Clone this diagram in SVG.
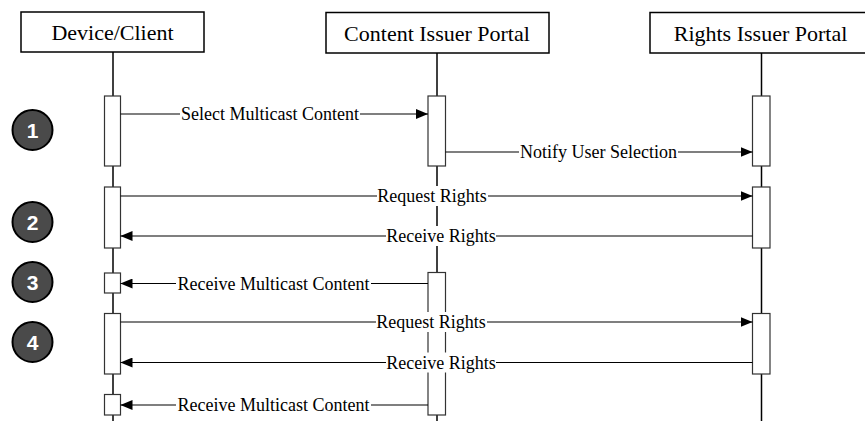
<svg xmlns="http://www.w3.org/2000/svg" width="865" height="421" viewBox="0 0 865 421">
<style>
.hdr{fill:#fff;stroke:#000;stroke-width:1.5}
.hdrt{font-size:22px;fill:#000;text-anchor:middle}
.life{stroke:#000;stroke-width:1.5;fill:none}
.act{fill:#fff;stroke:#333;stroke-width:1.2}
.msg{stroke:#000;stroke-width:1.2;fill:none}
.lbg{fill:#fff}
.lbl{font-size:18px;fill:#000;text-anchor:middle}
.step{fill:#4a4a4a;stroke:#000;stroke-width:2}
.stept{font-size:21px;font-weight:bold;fill:#fff;text-anchor:middle}
</style>
<defs>
<marker id="ah" markerWidth="12" markerHeight="10" refX="12" refY="5" orient="auto" markerUnits="userSpaceOnUse">
<path d="M0,0 L12,5 L0,10 Z" fill="#000"/>
</marker>
</defs>
<rect width="865" height="421" fill="#fff"/>
<g id="device" font-family="'Liberation Serif', 'DejaVu Serif', serif">
<line class="life" x1="113" y1="52" x2="113" y2="421"/>
<rect class="hdr" x="21" y="12" width="183" height="40"/>
<text class="hdrt" x="112.5" y="40">Device/Client</text>
<rect class="act" x="104.5" y="96" width="16" height="70"/>
<rect class="act" x="104.5" y="187" width="16" height="61"/>
<rect class="act" x="104.5" y="273" width="16" height="20"/>
<rect class="act" x="104.5" y="313.5" width="16" height="60.5"/>
<rect class="act" x="104.5" y="394.5" width="16" height="20.5"/>
</g>
<g id="content" font-family="'Liberation Serif', 'DejaVu Serif', serif">
<line class="life" x1="437" y1="53" x2="437" y2="421"/>
<rect class="hdr" x="326" y="12.5" width="223" height="40.5"/>
<text class="hdrt" x="437" y="40.5">Content Issuer Portal</text>
<rect class="act" x="428" y="96" width="17.5" height="70"/>
<rect class="act" x="428" y="272.5" width="17.5" height="142.5"/>
</g>
<g id="rights" font-family="'Liberation Serif', 'DejaVu Serif', serif">
<line class="life" x1="761.5" y1="53" x2="761.5" y2="421"/>
<rect class="hdr" x="650" y="12.5" width="223" height="40.5"/>
<text class="hdrt" x="760.5" y="40.5">Rights Issuer Portal</text>
<rect class="act" x="752.5" y="96" width="17.5" height="70"/>
<rect class="act" x="752.5" y="187" width="17.5" height="61"/>
<rect class="act" x="752.5" y="313.5" width="17.5" height="60.5"/>
</g>
<g id="steps" font-family="'Liberation Sans', Arial, sans-serif">
<circle class="step" cx="32.5" cy="130" r="20"/>
<text class="stept" x="32.5" y="137.5">1</text>
<circle class="step" cx="32.5" cy="222" r="20"/>
<text class="stept" x="32.5" y="229.5">2</text>
<circle class="step" cx="32.5" cy="282" r="20"/>
<text class="stept" x="32.5" y="289.5">3</text>
<circle class="step" cx="32.5" cy="342" r="20"/>
<text class="stept" x="32.5" y="349.5">4</text>
</g>
<g id="connectors" font-family="'Liberation Serif', 'DejaVu Serif', serif">
<line class="msg" x1="120.5" y1="114" x2="428" y2="114" marker-end="url(#ah)"/>
<line class="msg" x1="445.5" y1="152" x2="752.5" y2="152" marker-end="url(#ah)"/>
<line class="msg" x1="120.5" y1="196" x2="752.5" y2="196" marker-end="url(#ah)"/>
<line class="msg" x1="752.5" y1="236" x2="120.5" y2="236" marker-end="url(#ah)"/>
<line class="msg" x1="428" y1="283.5" x2="120.5" y2="283.5" marker-end="url(#ah)"/>
<line class="msg" x1="120.5" y1="322" x2="752.5" y2="322" marker-end="url(#ah)"/>
<line class="msg" x1="752.5" y1="362.5" x2="120.5" y2="362.5" marker-end="url(#ah)"/>
<line class="msg" x1="428" y1="405" x2="120.5" y2="405" marker-end="url(#ah)"/>
<rect class="lbg" x="180" y="104" width="180" height="20"/>
<text class="lbl" x="270" y="120">Select Multicast Content</text>
<rect class="lbg" x="519" y="142" width="159" height="20"/>
<text class="lbl" x="598.5" y="158">Notify User Selection</text>
<rect class="lbg" x="377" y="186" width="111" height="20"/>
<text class="lbl" x="432" y="202">Request Rights</text>
<rect class="lbg" x="386" y="226" width="110" height="20"/>
<text class="lbl" x="441" y="242">Receive Rights</text>
<rect class="lbg" x="176" y="273.5" width="195" height="20"/>
<text class="lbl" x="273.5" y="289.5">Receive Multicast Content</text>
<rect class="lbg" x="376" y="312" width="111" height="20"/>
<text class="lbl" x="431" y="328">Request Rights</text>
<rect class="lbg" x="386" y="352.5" width="110" height="20"/>
<text class="lbl" x="441" y="368.5">Receive Rights</text>
<rect class="lbg" x="176" y="395" width="195" height="20"/>
<text class="lbl" x="273.5" y="411">Receive Multicast Content</text>
</g>
</svg>
